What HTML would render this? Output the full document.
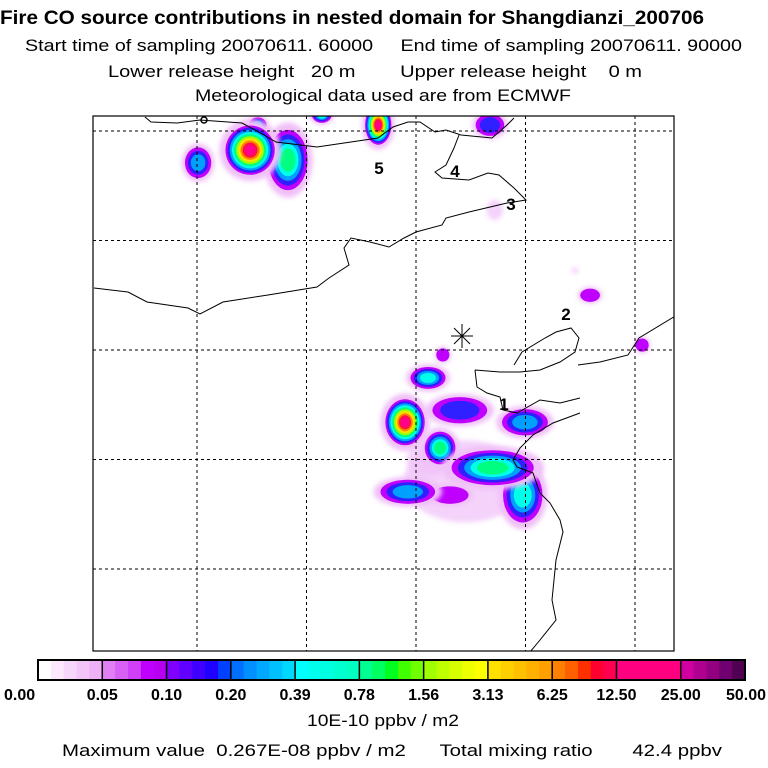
<!DOCTYPE html>
<html><head><meta charset="utf-8"><style>
html,body{margin:0;padding:0;background:#fff;}
svg{display:block;font-family:"Liberation Sans",sans-serif;}
</style></head><body>
<svg id="chart" width="768" height="768" viewBox="0 0 768 768" xmlns="http://www.w3.org/2000/svg">
<rect width="768" height="768" fill="#fff"/>
<g>
<text x="0" y="24" font-size="19" font-weight="bold" textLength="704" lengthAdjust="spacingAndGlyphs">Fire CO source contributions in nested domain for Shangdianzi_200706</text>
<text x="25" y="51" font-size="17" textLength="717" lengthAdjust="spacingAndGlyphs" xml:space="preserve">Start time of sampling 20070611. 60000     End time of sampling 20070611. 90000</text>
<text x="108" y="77" font-size="17" textLength="534" lengthAdjust="spacingAndGlyphs" xml:space="preserve">Lower release height   20 m        Upper release height    0 m</text>
<text x="195" y="101" font-size="17" textLength="376" lengthAdjust="spacingAndGlyphs">Meteorological data used are from ECMWF</text>
</g>
<defs><clipPath id="mapclip"><rect x="93" y="116" width="581" height="535"/></clipPath>
<filter id="soft" x="-50%" y="-50%" width="200%" height="200%"><feGaussianBlur stdDeviation="2.5"/></filter></defs>
<g id="plumes" clip-path="url(#mapclip)"></g>
<g id="grid"></g>
<g id="coast" clip-path="url(#mapclip)" fill="none" stroke="#000" stroke-width="1"></g>
<rect x="93" y="116" width="581" height="535" fill="none" stroke="#000" stroke-width="1.2"/>
<g id="marks"></g>
<g id="cbar"></g>
<text x="383" y="726" font-size="17" text-anchor="middle" textLength="152" lengthAdjust="spacingAndGlyphs">10E-10 ppbv / m2</text>
<text x="62" y="756" font-size="17" textLength="660" lengthAdjust="spacingAndGlyphs" xml:space="preserve">Maximum value  0.267E-08 ppbv / m2      Total mixing ratio       42.4 ppbv</text>
</svg>
<script>
const lonTicks=[114,116,118,120,122];
const latTicks=[42,40,38,36,34];
const levelLabels=["0.00","0.05","0.10","0.20","0.39","0.78","1.56","3.13","6.25","12.50","25.00","50.00"];
const levelColors=["#f0c0f8","#c000ff","#3020ff","#00a0ff","#00ffe8","#00ff80","#a0ff00","#ffe000","#ff8000","#ff1040","#ff0090"];
const spotLon=[114.02,114.97,115.66,115.11,116.28,117.31,119.35,119.44,121.18,118.49,118.22,117.8,118.8,118.44,119.99,119.4,119.95,117.85,118.62,122.13,120.9,118.9,118.2];
const spotLat=[41.42,41.65,41.47,42.11,42.29,42.11,42.11,40.56,39.0,37.91,37.49,36.68,36.9,36.21,36.68,35.85,35.35,35.41,35.35,38.09,39.45,35.6,36.0];
const spotRx=[0.24,0.45,0.36,0.16,0.18,0.24,0.26,0.12,0.18,0.12,0.32,0.36,0.5,0.28,0.42,0.75,0.36,0.5,0.34,0.12,0.05,0.9,0.3];
const spotRy=[0.28,0.45,0.55,0.14,0.14,0.36,0.2,0.15,0.12,0.12,0.2,0.42,0.24,0.3,0.24,0.32,0.5,0.22,0.16,0.12,0.05,0.6,0.25];
const spotPeak=[3,10,5,3,4,10,2,0,1,1,4,10,2,5,3,5,4,3,1,1,0,0,0];
const cbarColors=[["#ffffff","#fbe8fc","#f6d6fa","#f2c4f8","#eeb0f6"],["#e080f4","#d860f4","#d040f8","#c000ff","#b800f0"],["#8000ff","#6000ff","#4000ff","#2000ff","#0040ff"],["#0070ff","#0090ff","#00a8ff","#00c0ff","#00d8ff"],["#00ffff","#00ffec","#00ffe0","#00ffd0","#00ffc0"],["#00ff90","#00ff60","#00ff20","#40ff00","#70ff00"],["#a0ff00","#c0ff00","#d8ff00","#eeff00","#ffff00"],["#ffe000","#ffd000","#ffc000","#ffb000","#ffa000"],["#ff8000","#ff6000","#ff3000","#ff0030","#ff0050"],["#ff0080","#ff0080","#ff0080","#ff0080","#ff0080"],["#d000a0","#b00090","#900080","#700070","#500050"]];
const NS="http://www.w3.org/2000/svg";
function xS(lon){return 197+(lon-114)*54.75;}
function yS(lat){return 131+(42-lat)*54.75;}
function mk(tag,attrs,parent){const e=document.createElementNS(NS,tag);for(const k in attrs)e.setAttribute(k,attrs[k]);parent.appendChild(e);return e;}
const grid=document.getElementById('grid');
lonTicks.forEach(l=>{const e=mk('line',{x1:xS(l),x2:xS(l),y1:116,y2:651,stroke:'#000','stroke-width':1,'stroke-dasharray':'3,3'},grid);

});
latTicks.forEach(l=>{const e=mk('line',{x1:93,x2:674,y1:yS(l),y2:yS(l),stroke:'#000','stroke-width':1,'stroke-dasharray':'3,3'},grid);

});
const pl=document.getElementById('plumes');
const order=spotLon.map((_,i)=>i).sort((a,b)=>spotPeak[a]-spotPeak[b]);
order.forEach(i=>{
  const lo=spotLon[i];
  const g=mk('g',{},pl);
  
  
  const n=spotPeak[i]+1;
  for(let k=0;k<n;k++){
    const f=k===0?1.25:(k===1?1.0:1-(k-1)/(n+0.5));
    const rx=spotRx[i]*54.75*f, ry=spotRy[i]*54.75*f;
    const e=mk('ellipse',{cx:xS(lo),cy:yS(spotLat[i]),rx:rx,ry:ry,fill:levelColors[k]},g);
    if(k===0){e.setAttribute('filter','url(#soft)');e.setAttribute('opacity',n===1?0.7:1);}
  }
});
const coastLines=[
"145,117 151,122 177,123 200,120 242,123 264,135 276,142 317,147 378,138 393,127 408,122 420,122 435,132 446,130 461,135 492,138 507,125 514,118",
"459,135 454,148 446,165 435,172 442,178 469,180 488,173 499,175 514,188 526,200 507,203 469,212 446,218 442,225 416,232 404,238 389,247 370,242 351,238 344,248 349,265 329,278 317,287 268,295 223,302 200,314 188,308 147,302 128,292 94,288",
"514,365 522,352 545,338 556,332 571,328 579,338 575,352 560,362 540,370 520,372 500,372 475,370",
"475,370 477,387 487,393 500,397 503,410 517,413 540,400 560,403 580,398",
"580,413 553,423 533,435 520,448 513,460 517,467 533,473 540,493 550,503 560,520 563,532 556,560 552,600 556,620 540,640 530,652",
"578,365 600,362 628,355 639,338 677,315"];
const coast=document.getElementById('coast');
coastLines.forEach(p=>{const e=mk('polyline',{points:p},coast);

});
const marks=document.getElementById('marks');
const star=mk('g',{stroke:'#000','stroke-width':1},marks);


[[451,336,473,336],[462,324,462,348],[454,328,470,344],[454,344,470,328]].forEach(c=>mk('line',{x1:c[0],y1:c[1],x2:c[2],y2:c[3]},star));
const circ=mk('circle',{cx:204,cy:120,r:3,fill:'none',stroke:'#000','stroke-width':1.5},marks);


[["1",504,410],["2",566,320],["3",511,210],["4",455,177],["5",379,174]].forEach(m=>{
 const t=mk('text',{x:m[1],y:m[2],'font-size':17,'font-weight':'bold','text-anchor':'middle'},marks);t.textContent=m[0];
 
 });
const cb=document.getElementById('cbar');
const x0=38,x1=745,segW=(x1-x0)/cbarColors.length;
cbarColors.forEach((seg,i)=>{seg.forEach((c,j)=>{const r=mk('rect',{x:x0+i*segW+j*segW/5,y:660,width:segW/5+0.5,height:20,fill:c},cb);
 
 });
 if(i>0){mk('line',{x1:x0+i*segW,x2:x0+i*segW,y1:660,y2:680,stroke:'#000','stroke-width':1.5},cb);}});
mk('rect',{x:x0,y:660,width:x1-x0,height:20,fill:'none',stroke:'#000','stroke-width':2},cb);
levelLabels.forEach((l,i)=>{const t=mk('text',{x:x0+i*segW,y:700,'font-size':16,'font-weight':'bold','text-anchor':i===0?'start':(i===levelLabels.length-1?'end':'middle')},cb);
 if(i===0)t.setAttribute('x',4);
 if(i===levelLabels.length-1)t.setAttribute('x',766);
 t.textContent=l;
 
 });
</script>
</body></html>
